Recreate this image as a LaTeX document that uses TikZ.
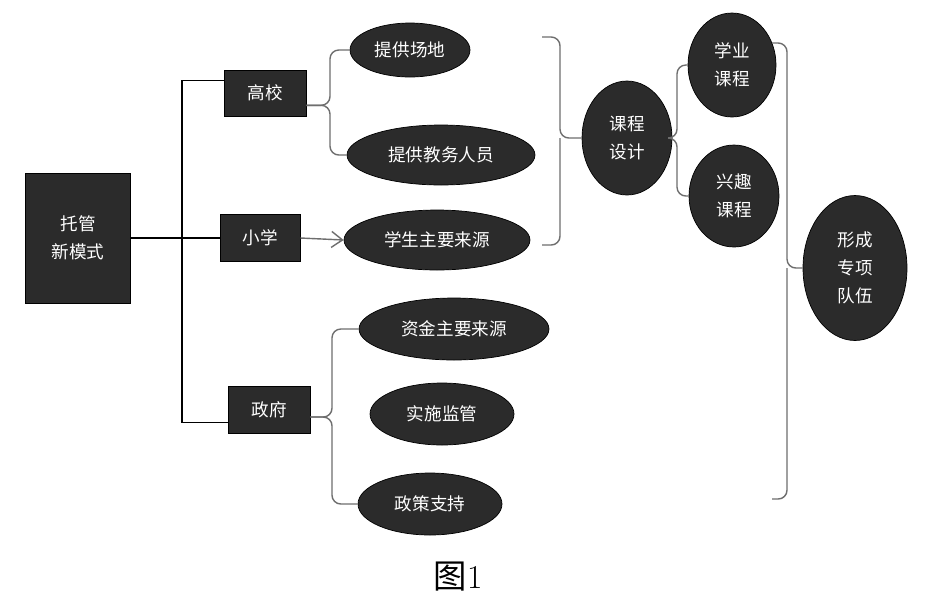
\documentclass[tikz,border=0pt]{standalone}
\usepackage{fontspec}
\newfontfamily\cjk{Noto Sans CJK SC}
\usepackage{tikz}
\usetikzlibrary{arrows.meta, positioning, shapes.geometric}

\definecolor{nodefill}{HTML}{2B2B2B}
\definecolor{linegray}{HTML}{6E6E6E}

\tikzset{
  box/.style={draw=black, fill=nodefill, text=white, inner sep=0pt, align=center,
              font=\cjk\fontsize{10}{16}\selectfont},
  oval/.style={ellipse, draw=black, fill=nodefill, text=white, inner sep=0pt, align=center,
              font=\cjk\fontsize{10}{16}\selectfont},
  trunk/.style={draw=black, line width=0.6pt},
  brace/.style={draw=linegray, line width=0.8pt, rounded corners=5pt}
}

\begin{document}
\begin{tikzpicture}[x=0.02cm, y=-0.02cm]
  \useasboundingbox[fill=white] (0,0) rectangle (936,606);

  % Boxes
  \node[box, minimum width=2.1cm, minimum height=2.6cm] (root) at (78,238) {托管\\新模式};
  \node[box, minimum width=1.64cm, minimum height=0.92cm] (gx) at (265,93) {高校};
  \node[box, minimum width=1.6cm, minimum height=0.94cm] (xx) at (260,238) {小学};
  \node[box, minimum width=1.64cm, minimum height=0.94cm] (zf) at (269,410) {政府};

  % Ovals
  \node[oval, minimum width=2.4cm, minimum height=1.08cm] (tg) at (410,50) {提供场地};
  \node[oval, minimum width=3.76cm, minimum height=1.2cm] (tj) at (441,155) {提供教务人员};
  \node[oval, minimum width=3.72cm, minimum height=1.2cm] (xs) at (437,240) {学生主要来源};
  \node[oval, minimum width=3.8cm, minimum height=1.24cm] (zj) at (454,329) {资金主要来源};
  \node[oval, minimum width=2.88cm, minimum height=1.24cm] (ss) at (442,414) {实施监管};
  \node[oval, minimum width=2.88cm, minimum height=1.24cm] (zc) at (430,504) {政策支持};
  \node[oval, minimum width=1.8cm, minimum height=2.28cm] (kc) at (627,138) {课程\\设计};
  \node[oval, minimum width=1.76cm, minimum height=2.08cm] (xy) at (732,65) {学业\\课程};
  \node[oval, minimum width=1.8cm, minimum height=2.04cm] (xq) at (734,196) {兴趣\\课程};
  \node[oval, minimum width=2.08cm, minimum height=2.9cm] (xc) at (855,268) {形成\\专项\\队伍};

  % Caption
  \node[font=\fontsize{19}{22}\selectfont] (cap) at (458,577) {{\cjk 图}1};

  % Trunk
  \coordinate (tr) at (182,0);
  \coordinate (gxin) at ([yshift=7pt]gx.west);
  \coordinate (zfin) at ([yshift=-7pt]zf.west);
  \draw[trunk] (root.east) -- (xx.west);
  \draw[trunk] (gxin) -| (tr |- zfin) -- (zfin);
  \draw[-{Straight Barb[length=2.2mm, width=3.2mm]}, draw=linegray, line width=0.8pt] (xx.east) -- (xs.west);

  % Braces from the boxes
  \coordinate (b1) at (330,0);
  \coordinate (gxout) at ([yshift=-7pt]gx.east);
  \draw[brace] (gxout) -| (b1 |- tg.west) -- (tg.west);
  \draw[brace] (gxout) -| (b1 |- tj.west) -- (tj.west);

  \coordinate (b4) at (332,0);
  \coordinate (zfout) at ([yshift=-4pt]zf.east);
  \draw[brace] (zfout) -| (b4 |- zj.west) -- (zj.west);
  \draw[brace] (zfout) -| (b4 |- zc.west) -- (zc.west);

  % Bracket to course design
  \coordinate (r1) at (560,0);
  \coordinate (r1a) at (542,37);
  \coordinate (r1b) at (542,245);
  \draw[brace] (r1a) -| (r1 |- kc.west) -- (kc.west);
  \draw[brace] (r1b) -| (r1 |- kc.west);

  \coordinate (b2) at (677,0);
  \draw[brace] (kc.east) -| (b2 |- xy.west) -- (xy.west);
  \draw[brace] (kc.east) -| (b2 |- xq.west) -- (xq.west);

  % Bracket to the team
  \coordinate (b3) at (787,0);
  \coordinate (r3a) at (772,43);
  \coordinate (r3b) at (772,499);
  \draw[brace] (r3a) -| (b3 |- xc.west) -- (xc.west);
  \draw[brace] (r3b) -| (b3 |- xc.west);
\end{tikzpicture}
\end{document}
